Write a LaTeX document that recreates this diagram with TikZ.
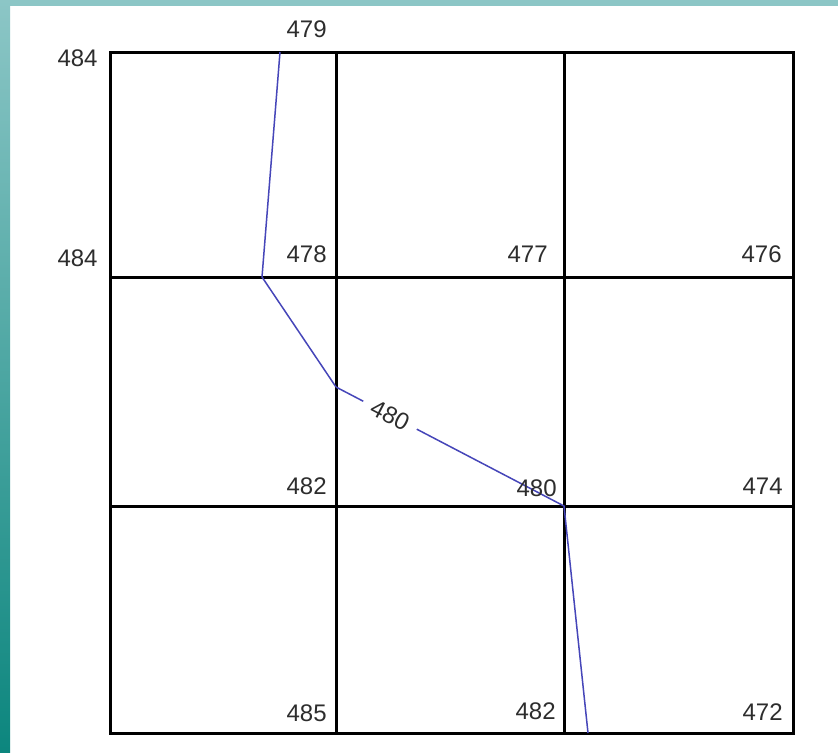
\documentclass[tikz,border=0pt]{standalone}
\usepackage{fontspec}
\setmainfont{Liberation Sans}
\definecolor{tealtop}{RGB}{140,198,198}
\definecolor{tealdark}{RGB}{12,134,126}
\definecolor{lblgray}{RGB}{45,45,45}
\definecolor{contour}{RGB}{70,70,185}
\tikzset{
  gridline/.style={line width=1.5pt, black},
  contourline/.style={line width=0.75pt, contour},
  lbl/.style={text=lblgray, font=\fontsize{12}{14}\selectfont, inner sep=0pt},
  contourlbl/.style={text=lblgray, font=\fontsize{12}{14}\selectfont, fill=white, inner xsep=5pt, inner ysep=1pt, sloped}
}
\begin{document}
\begin{tikzpicture}[x=0.5pt,y=-0.5pt]
\useasboundingbox (0,0) rectangle (838,752);
\fill[white] (0,0) rectangle (838,752);
\fill[tealtop] (0,0) rectangle (838,6);
\shade[top color=tealtop, bottom color=tealdark] (0,0) rectangle (10,752);
% grid coordinates
\coordinate (a0) at (110,52);  \coordinate (a1) at (336,52);  \coordinate (a2) at (564,52);  \coordinate (a3) at (793,52);
\coordinate (b0) at (110,277); \coordinate (b1) at (336,277); \coordinate (b2) at (564,277); \coordinate (b3) at (793,277);
\coordinate (c0) at (110,506); \coordinate (c1) at (336,506); \coordinate (c2) at (564,506); \coordinate (c3) at (793,506);
\coordinate (d0) at (110,733); \coordinate (d1) at (336,733); \coordinate (d2) at (564,733); \coordinate (d3) at (793,733);
% grid
\draw[gridline] (a0) -- (a3) -- (d3) -- (d0) -- cycle;
\draw[gridline] (b0) -- (b3);
\draw[gridline] (c0) -- (c3);
\draw[gridline] (a1) -- (d1);
\draw[gridline] (a2) -- (d2);
% contour line
\coordinate (p1) at (280,52);
\coordinate (p2) at (262,277);
\coordinate (p3) at (336,387);
\coordinate (p4) at (564,506);
\coordinate (p5) at (588,733);
\draw[contourline] (p1) -- (p2) -- (p3);
\draw[contourline] (p3) -- node[contourlbl, pos=0.237] (cl) {480} (p4) -- (p5);
% labels
\node[lbl, anchor=base east] (l479) at (327,37) {479};
\node[lbl, anchor=base east] (l484a) at (98,66) {484};
\node[lbl, anchor=base east] (l484b) at (98,266) {484};
\node[lbl, anchor=base east] (l478) at (327,262) {478};
\node[lbl, anchor=base east] (l477) at (548,262) {477};
\node[lbl, anchor=base east] (l476) at (782,262) {476};
\node[lbl, anchor=base east] (l482a) at (327,494) {482};
\node[lbl, anchor=base east] (l480) at (557,496) {480};
\node[lbl, anchor=base east] (l474) at (783,494) {474};
\node[lbl, anchor=base east] (l485) at (327,721) {485};
\node[lbl, anchor=base east] (l482b) at (556,719) {482};
\node[lbl, anchor=base east] (l472) at (783,720) {472};
\end{tikzpicture}
\end{document}
